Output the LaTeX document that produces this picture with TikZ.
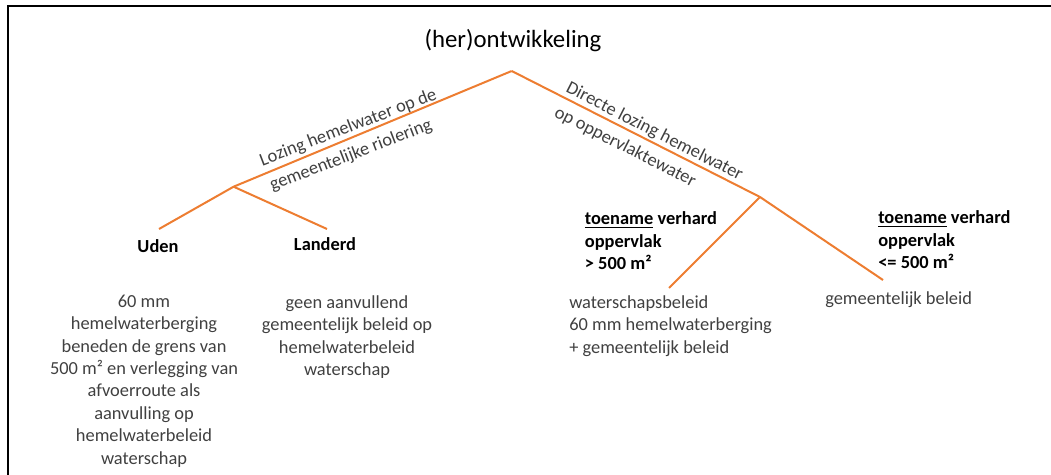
\documentclass[tikz,border=0pt]{standalone}
\usepackage{fontspec}
\setmainfont{Carlito}
\definecolor{lineor}{HTML}{ED7D31}
\definecolor{txtgray}{HTML}{404040}
\begin{document}
\begin{tikzpicture}[x=0.75pt,y=-0.75pt,
  branch/.style={draw=lineor,line width=1.5pt},
  body/.style={inner sep=0pt,text=txtgray,font=\fontsize{13.8}{16.8}\selectfont},
  diag/.style={inner sep=0pt,anchor=base,text=txtgray,font=\fontsize{13.8}{16.8}\selectfont},
  boldlab/.style={inner sep=0pt,text=black,font=\fontsize{13.8}{16.8}\selectfont\bfseries},
  titlestyle/.style={inner sep=0pt,text=black,font=\fontsize{18.6}{22}\selectfont}]
\useasboundingbox (0,0) rectangle (1051,475);
\draw[line width=1.5pt,line cap=rect] (1051,6) -- (7.5,6) -- (7.5,475);

\node[titlestyle] (title) at (513,41) {(her)ontwikkeling};

\coordinate (apex) at (511.7,71);
\coordinate (jl) at (233.6,186.7);
\coordinate (jr) at (760,197);
\coordinate (eu) at (159,229);
\coordinate (el) at (327,229);
\coordinate (ews) at (669,288);
\coordinate (egm) at (883,280);

\draw[branch] (apex) -- (jl) -- (eu);
\draw[branch] (jl) -- (el);
\draw[branch] (apex) -- (jr) -- (egm);
\draw[branch] (jr) -- (ews);

\node[diag,rotate=21] (lozl1) at (350.1,132.4) {Lozing hemelwater op de};
\node[diag,rotate=21] (lozl2) at (352.7,160) {gemeentelijke riolering};
\node[diag,rotate=-27] (lozr1) at (652.3,136.2) {Directe lozing hemelwater};
\node[diag,rotate=-27] (lozr2) at (622.9,151.6) {op oppervlaktewater};

\node[boldlab] (uden) at (158,246) {Uden};
\node[boldlab] (landerd) at (325,244) {Landerd};

\node[body,align=center] (udendesc) at (144,381) {60 mm\\hemelwaterberging\\beneden de grens van\\500 m² en verlegging van\\afvoerroute als\\aanvulling op\\hemelwaterbeleid\\waterschap};
\node[body,align=center] (landdesc) at (347,337) {geen aanvullend\\gemeentelijk beleid op\\hemelwaterbeleid\\waterschap};

\node[boldlab,anchor=west,align=left] (gt) at (584.6,241) {\underline{toename} verhard\\oppervlak\\> 500 m²};
\node[boldlab,anchor=west,align=left] (le) at (878,240) {\underline{toename} verhard\\oppervlak\\<= 500 m²};

\node[body,anchor=west,align=left] (ws) at (569,326) {waterschapsbeleid\\60 mm hemelwaterberging\\+ gemeentelijk beleid};
\node[body,anchor=west] (gm) at (825,300) {gemeentelijk beleid};
\end{tikzpicture}
\end{document}
